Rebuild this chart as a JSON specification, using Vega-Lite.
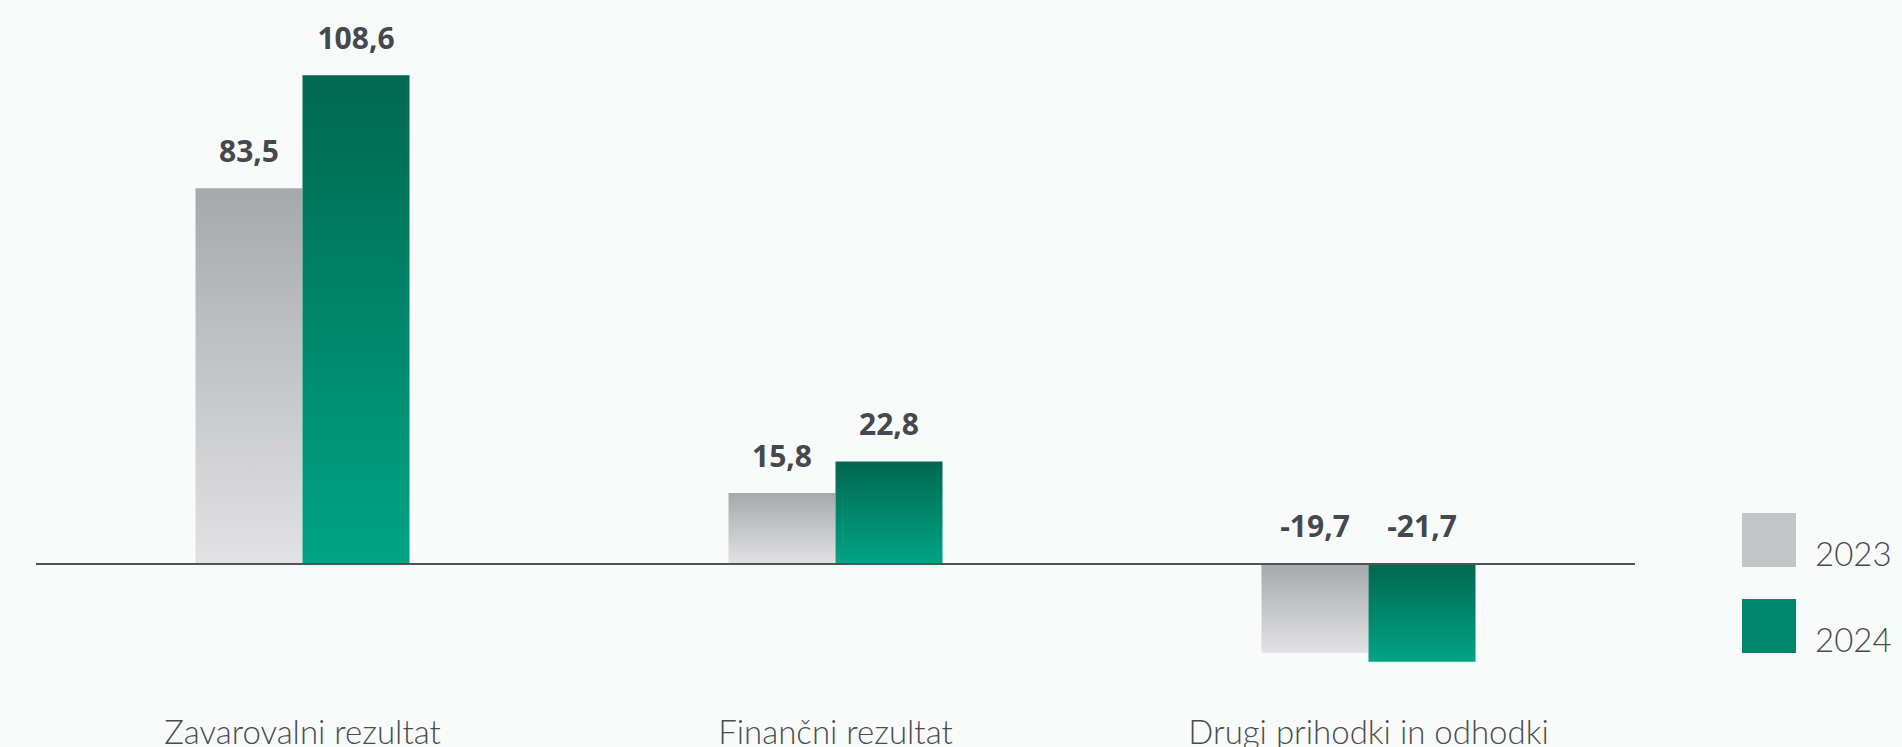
{
  "$schema": "https://vega.github.io/schema/vega-lite/v6.json",
  "autosize": {"type": "none"},
  "padding": {"left": 36, "top": 24, "right": 267, "bottom": 48},
  "width": 1599,
  "height": 675,
  "background": "#f9fbfa",
  "config": {
    "view": {"stroke": null},
    "locale": {"number": {"decimal": ",", "thousands": ".", "grouping": [3], "currency": ["", " €"], "minus": "-"}}
  },
  "data": {
    "values": [
      {"kategorija": "Zavarovalni rezultat", "leto": "2023", "vrednost": 83.5},
      {"kategorija": "Zavarovalni rezultat", "leto": "2024", "vrednost": 108.6},
      {"kategorija": "Finančni rezultat", "leto": "2023", "vrednost": 15.8},
      {"kategorija": "Finančni rezultat", "leto": "2024", "vrednost": 22.8},
      {"kategorija": "Drugi prihodki in odhodki", "leto": "2023", "vrednost": -19.7},
      {"kategorija": "Drugi prihodki in odhodki", "leto": "2024", "vrednost": -21.7}
    ]
  },
  "encoding": {
    "x": {
      "field": "kategorija",
      "type": "nominal",
      "sort": null,
      "scale": {"paddingInner": 0.5985, "paddingOuter": 0.29925},
      "axis": {
        "title": null,
        "domain": false,
        "ticks": false,
        "labelAngle": 0,
        "labelFont": "Lato",
        "labelFontWeight": 300,
        "labelFontSize": 33,
        "labelLimit": 800,
        "labelColor": "#4a4d50",
        "labelBaseline": "alphabetic",
        "labelPadding": 44
      }
    },
    "xOffset": {
      "field": "leto",
      "type": "nominal",
      "scale": {"domain": ["2023", "2024"], "paddingInner": 0, "paddingOuter": 0}
    },
    "y": {
      "field": "vrednost",
      "type": "quantitative",
      "scale": {"domain": [-30, 120], "nice": false, "zero": true},
      "axis": null
    }
  },
  "layer": [
    {
      "mark": {"type": "bar", "opacity": 0},
      "encoding": {
        "color": {
          "field": "leto",
          "type": "nominal",
          "scale": {"domain": ["2023", "2024"], "range": ["#c3c5c7", "#00866a"]},
          "legend": {
            "title": null,
            "orient": "none",
            "legendX": 1706,
            "legendY": 489,
            "symbolType": "square",
            "symbolSize": 2916,
            "symbolStrokeWidth": 0,
            "symbolOpacity": 1,
            "rowPadding": 26,
            "labelFont": "Lato",
            "labelFontWeight": 300,
            "labelFontSize": 33,
            "labelColor": "#4a4d50",
            "labelBaseline": "top",
            "labelOffset": 19
          }
        }
      }
    },
    {
      "transform": [{"filter": "datum.leto === '2023'"}],
      "mark": {"type": "bar", "fill": {"gradient": "linear", "x1": 0, "y1": 0, "x2": 0, "y2": 1, "stops": [{"offset": 0, "color": "#a6a9ac"}, {"offset": 1, "color": "#e2e2e4"}]}},
      "encoding": {}
    },
    {
      "transform": [{"filter": "datum.leto === '2024'"}],
      "mark": {"type": "bar", "fill": {"gradient": "linear", "x1": 0, "y1": 0, "x2": 0, "y2": 1, "stops": [{"offset": 0, "color": "#00684f"}, {"offset": 1, "color": "#00a485"}]}},
      "encoding": {}
    },
    {
      "mark": {"type": "rule", "color": "#505356", "strokeWidth": 1.5},
      "encoding": {"y": {"datum": 0, "type": "quantitative"}, "x": {}, "xOffset": {}}
    },
    {
      "transform": [{"filter": "datum.vrednost >= 0"}],
      "mark": {"type": "text", "baseline": "alphabetic", "dy": -26, "font": "Open Sans", "fontWeight": 700, "fontSize": 30, "color": "#45484c"},
      "encoding": {
        "text": {"field": "vrednost", "type": "quantitative", "format": ".1f"}
      }
    },
    {
      "transform": [{"filter": "datum.vrednost < 0"}],
      "mark": {"type": "text", "baseline": "alphabetic", "dy": -27, "font": "Open Sans", "fontWeight": 700, "fontSize": 30, "color": "#45484c"},
      "encoding": {
        "y": {"datum": 0, "type": "quantitative"},
        "text": {"field": "vrednost", "type": "quantitative", "format": ".1f"}
      }
    }
  ]
}
